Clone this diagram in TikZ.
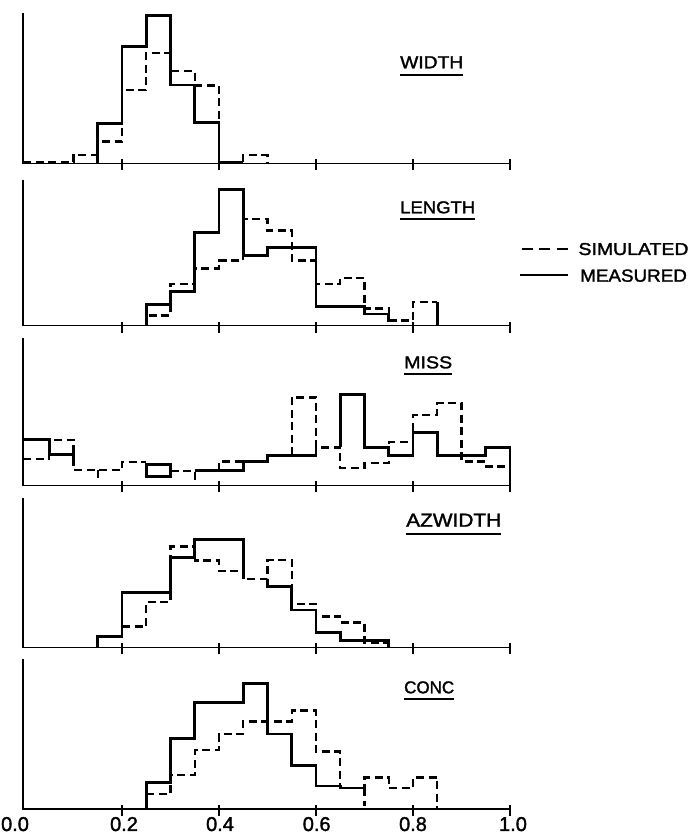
\documentclass[tikz,border=0pt]{standalone}
\usepackage{fontspec}
\setmainfont{Liberation Sans}[FakeBold=1.6]
\usepackage{graphicx}
\begin{document}
\begin{tikzpicture}[x=1pt,y=1pt,
  meas/.style={line width=2.8pt, line join=miter},
  sim/.style={line width=2.4pt, dash pattern=on 8pt off 4.5pt},
  axis/.style={line width=1.5pt},
  uline/.style={line width=2.2pt},
  lab/.style={inner sep=0pt, anchor=base west},
  ticklab/.style={inner sep=0pt, anchor=base, font=\fontsize{20}{21}\selectfont}]
\useasboundingbox (0,0) rectangle (691,834);
\fill[white] (0,0) rectangle (691,834);

% ---------- panel 1: WIDTH ----------
\begin{scope}[shift={(25pt,670.7pt)}, x=485pt, y=1pt]
  \draw[axis] (-0.004,150) -- (-0.004,0) -- (1,0);
  \foreach \t in {0.2,0.4,0.6,0.8,1.0} \draw[axis] (\t,-7) -- (\t,4);
  \draw[sim] (-0.004,1) -- (0.1,1) -- (0.1,8.3) -- (0.15,8.3) -- (0.15,21.7) -- (0.2,21.7) -- (0.2,73.3) -- (0.25,73.3) -- (0.25,110) -- (0.3,110) -- (0.3,92.3) -- (0.35,92.3) -- (0.35,77.7) -- (0.4,77.7) -- (0.4,40.7);
  \draw[sim] (0.45,1) -- (0.45,8) -- (0.5,8) -- (0.5,0);
  \draw[meas] (0.15,0) -- (0.15,40) -- (0.2,40) -- (0.2,116.7) -- (0.25,116.7) -- (0.25,147.7) -- (0.3,147.7) -- (0.3,78.3) -- (0.35,78.3) -- (0.35,40.7) -- (0.4,40.7) -- (0.4,1.2) -- (0.45,1.2);
\end{scope}
\node[lab] (tw) at (400,765.7) {\resizebox{63pt}{12pt}{WIDTH}};
\draw[uline] ([yshift=-6.7pt]tw.base west) -- ([yshift=-6.7pt]tw.base east);

% ---------- panel 2: LENGTH ----------
\begin{scope}[shift={(25pt,508.3pt)}, x=485pt, y=1pt]
  \draw[axis] (-0.004,146) -- (-0.004,0) -- (1,0);
  \foreach \t in {0.2,0.4,0.6,0.8,1.0} \draw[axis] (\t,-7) -- (\t,4);
  \draw[sim] (0.25,0) -- (0.25,10) -- (0.3,10) -- (0.3,41.7) -- (0.35,41.7) -- (0.35,57.3) -- (0.4,57.3) -- (0.4,65) -- (0.45,65) -- (0.45,106.7) -- (0.5,106.7) -- (0.5,95) -- (0.55,95) -- (0.55,65) -- (0.6,65) -- (0.6,41.7) -- (0.65,41.7) -- (0.65,47.7) -- (0.7,47.7) -- (0.7,17) -- (0.75,17) -- (0.75,5) -- (0.8,5) -- (0.8,23.7) -- (0.85,23.7);
  \draw[meas] (0.25,0) -- (0.25,21.3) -- (0.3,21.3) -- (0.3,34) -- (0.35,34) -- (0.35,93.3) -- (0.4,93.3) -- (0.4,136.3) -- (0.45,136.3) -- (0.45,70) -- (0.5,70) -- (0.5,78) -- (0.6,78) -- (0.6,19.5) -- (0.7,19.5) -- (0.7,11.7) -- (0.75,11.7) -- (0.75,5) -- (0.766,5);
  \draw[meas] (0.85,23.7) -- (0.85,0);
\end{scope}
\node[lab] (tl) at (400,620.7) {\resizebox{75pt}{12pt}{LENGTH}};
\draw[uline] ([yshift=-6pt]tl.base west) -- ([yshift=-6pt]tl.base east);

% ---------- panel 3: MISS ----------
\begin{scope}[shift={(25pt,348.5pt)}, x=485pt, y=1pt]
  \draw[axis] (-0.004,147) -- (-0.004,0) -- (1,0);
  \foreach \t in {0.2,0.4,0.6,0.8,1.0} \draw[axis] (\t,-7) -- (\t,4);
  \draw[sim] (-0.004,26.7) -- (0.05,26.7) -- (0.05,45.7) -- (0.1,45.7) -- (0.1,15.7) -- (0.2,15.7) -- (0.2,23.3) -- (0.25,23.3);
  \draw[sim] (0.15,15.7) -- (0.15,6.3);
  \draw[sim] (0.3,14.7) -- (0.35,14.7) -- (0.35,4);
  \draw[sim] (0.4,14.7) -- (0.4,24) -- (0.45,24);
  \draw[sim] (0.55,30) -- (0.55,88) -- (0.6,88) -- (0.6,38) -- (0.65,38) -- (0.65,17.3) -- (0.7,17.3) -- (0.7,22.3) -- (0.75,22.3) -- (0.75,43.3) -- (0.8,43.3) -- (0.8,70.7) -- (0.85,70.7) -- (0.85,82.3) -- (0.9,82.3) -- (0.9,24) -- (0.95,24) -- (0.95,19) -- (1,19);
  \draw[meas] (-0.004,45.7) -- (0.05,45.7) -- (0.05,31.3) -- (0.1,31.3) -- (0.1,24);
  \draw[meas] (0.25,9) rectangle (0.3,20.7);
  \draw[meas] (0.35,14.7) -- (0.45,14.7) -- (0.45,24) -- (0.5,24) -- (0.5,30) -- (0.6,30) -- (0.6,38);
  \draw[meas] (0.65,38) -- (0.65,91.3) -- (0.7,91.3) -- (0.7,38) -- (0.75,38) -- (0.75,30) -- (0.8,30) -- (0.8,53.3) -- (0.85,53.3) -- (0.85,30) -- (0.95,30) -- (0.95,38.3) -- (1,38.3) -- (1,0);
\end{scope}
\node[lab] (tm) at (404,465.7) {\resizebox{48pt}{12pt}{MISS}};
\draw[uline] ([yshift=-6pt]tm.base west) -- ([yshift=-6pt]tm.base east);

% ---------- panel 4: AZWIDTH ----------
\begin{scope}[shift={(25pt,186.7pt)}, x=485pt, y=1pt]
  \draw[axis] (-0.004,149) -- (-0.004,0) -- (1,0);
  \foreach \t in {0.2,0.4,0.6,0.8,1.0} \draw[axis] (\t,-7) -- (\t,4);
  \draw[sim] (0.2,20.7) -- (0.25,20.7) -- (0.25,45) -- (0.3,45) -- (0.3,100.7) -- (0.35,100.7) -- (0.35,86.7) -- (0.4,86.7) -- (0.4,76.3) -- (0.45,76.3) -- (0.45,68.3) -- (0.5,68.3) -- (0.5,87.3) -- (0.55,87.3) -- (0.55,43.3) -- (0.6,43.3) -- (0.6,30.7) -- (0.65,30.7) -- (0.65,24.7) -- (0.7,24.7) -- (0.7,4.7) -- (0.75,4.7);
  \draw[meas] (0.15,0) -- (0.15,10.7) -- (0.2,10.7) -- (0.2,55) -- (0.3,55) -- (0.3,90) -- (0.35,90) -- (0.35,108) -- (0.45,108) -- (0.45,68.3);
  \draw[meas] (0.5,68.3) -- (0.5,60.7) -- (0.55,60.7) -- (0.55,37.3) -- (0.6,37.3) -- (0.6,14.7) -- (0.65,14.7) -- (0.65,6.7) -- (0.75,6.7) -- (0.75,0);
\end{scope}
\node[lab] (ta) at (406,307.3) {\resizebox{95pt}{13pt}{AZWIDTH}};
\draw[uline] ([yshift=-7pt]ta.base west) -- ([yshift=-7pt]ta.base east);

% ---------- panel 5: CONC ----------
\begin{scope}[shift={(25pt,25pt)}, x=485pt, y=1pt]
  \draw[axis] (-0.004,149.7) -- (-0.004,0) -- (1,0);
  \foreach \t in {0.2,0.4,0.6,0.8,1.0} \draw[axis] (\t,-7) -- (\t,4);
  \draw[sim] (0.25,15) -- (0.3,15) -- (0.3,34) -- (0.35,34) -- (0.35,59) -- (0.4,59) -- (0.4,75) -- (0.45,75) -- (0.45,87.3) -- (0.55,87.3) -- (0.55,98.3) -- (0.6,98.3) -- (0.6,57.3) -- (0.65,57.3) -- (0.65,20.7) -- (0.7,20.7) -- (0.7,31.3) -- (0.75,31.3) -- (0.75,20.7) -- (0.8,20.7) -- (0.8,31.3) -- (0.85,31.3) -- (0.85,0);
  \draw[sim] (0.7,20.7) -- (0.7,3);
  \draw[meas] (0.25,0) -- (0.25,26.3) -- (0.3,26.3) -- (0.3,70.7) -- (0.35,70.7) -- (0.35,106.3) -- (0.45,106.3) -- (0.45,125.7) -- (0.5,125.7) -- (0.5,75) -- (0.55,75) -- (0.55,43.3) -- (0.6,43.3) -- (0.6,23) -- (0.65,23) -- (0.65,21) -- (0.7,21);
\end{scope}
\node[lab] (tc) at (404,140.7) {\resizebox{50pt}{12pt}{CONC}};
\draw[uline] ([yshift=-6pt]tc.base west) -- ([yshift=-6pt]tc.base east);

% ---------- tick labels ----------
\node[ticklab] (x00) at (15,3) {0.0};
\node[ticklab] (x02) at (124,3) {0.2};
\node[ticklab] (x04) at (220,3) {0.4};
\node[ticklab] (x06) at (316.7,3) {0.6};
\node[ticklab] (x08) at (413,3) {0.8};
\node[ticklab] (x10) at (513,3) {1.0};

% ---------- legend ----------
\coordinate (ls1) at (521.7,584.7);
\coordinate (ls2) at (568.3,584.7);
\coordinate (lm1) at (520,559);
\coordinate (lm2) at (568.3,559);
\draw[line width=2.2pt, dash pattern=on 11pt off 6.5pt] (ls1) -- (ls2);
\draw[line width=2.2pt] (lm1) -- (lm2);
\node[lab] (lsim) at (578.3,579) {\resizebox{110pt}{12pt}{SIMULATED}};
\node[lab] (lmea) at (580,552.3) {\resizebox{106.7pt}{12.3pt}{MEASURED}};
\end{tikzpicture}
\end{document}
